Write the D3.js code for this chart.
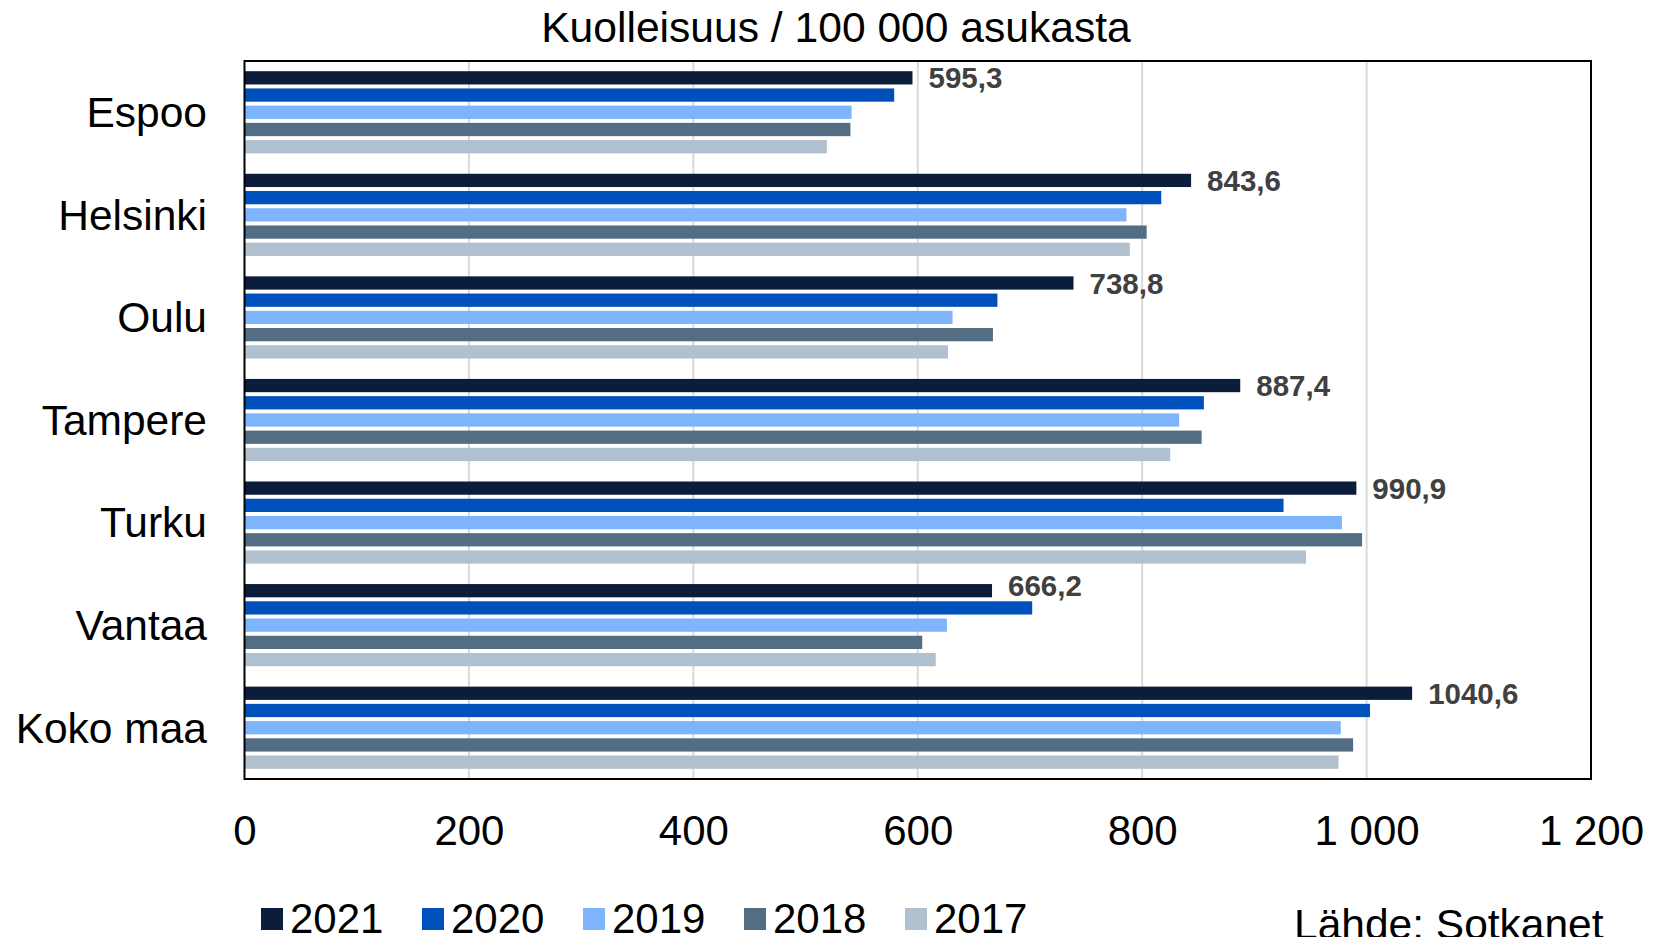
<!DOCTYPE html>
<html>
<head>
<meta charset="utf-8">
<script src="https://cdn.jsdelivr.net/npm/d3@7"></script>
<style>
  html, body { margin: 0; padding: 0; background: #fff; }
  svg { display: block; font-family: "Liberation Sans", Arial, sans-serif; }
</style>
</head>
<body>
<svg id="chart" width="1654" height="937"></svg>
<script>
const title = "Kuolleisuus / 100 000 asukasta";
const source = "Lähde: Sotkanet";
const categories = ["Espoo", "Helsinki", "Oulu", "Tampere", "Turku", "Vantaa", "Koko maa"];
const years = ["2021", "2020", "2019", "2018", "2017"];
const v2021 = [595.3, 843.6, 738.8, 887.4, 990.9, 666.2, 1040.6];
const v2020 = [579, 817, 671, 855, 926, 702, 1003];
const v2019 = [541, 786, 631, 833, 978, 626, 977];
const v2018 = [540, 804, 667, 853, 996, 604, 988];
const v2017 = [519, 789, 627, 825, 946, 616, 975];
const labels2021 = ["595,3", "843,6", "738,8", "887,4", "990,9", "666,2", "1040,6"];
const tickValues = [0, 200, 400, 600, 800, 1000, 1200];
const tickLabels = ["0", "200", "400", "600", "800", "1 000", "1 200"];
const colors = ["#0b1d3a", "#0050bb", "#7eb4fc", "#536d82", "#b0c0cf"];

const series = [v2021, v2020, v2019, v2018, v2017];

const svg = d3.select("#chart");
const L = 244.5, R = 1591, T = 61, B = 779;

const x = d3.scaleLinear().domain([0, 1200]).range([L, R]);
const y0 = d3.scaleBand().domain(categories).range([T, B]).padding(0);
const y1 = d3.scaleBand().domain(years).range([10.2, y0.bandwidth() - 10.2]).paddingInner(0.23).paddingOuter(0);
const color = d3.scaleOrdinal().domain(years).range(colors);

// title
svg.append("text")
  .attr("x", 836).attr("y", 42)
  .attr("text-anchor", "middle")
  .attr("font-size", 42.6)
  .attr("fill", "#000")
  .text(title);

// gridlines
svg.append("g")
  .selectAll("line")
  .data(tickValues.filter(d => d > 0 && d < 1200))
  .join("line")
  .attr("x1", d => x(d)).attr("x2", d => x(d))
  .attr("y1", T).attr("y2", B)
  .attr("stroke", "#d9d9d9")
  .attr("stroke-width", 2);

// bars
const rows = categories.map((c, i) => ({ cat: c, vals: years.map((yr, j) => ({ yr, v: series[j][i] })) }));
const groups = svg.append("g")
  .selectAll("g")
  .data(rows)
  .join("g")
  .attr("transform", d => `translate(0,${y0(d.cat)})`);

groups.selectAll("rect")
  .data(d => d.vals)
  .join("rect")
  .attr("x", x(0))
  .attr("y", d => y1(d.yr))
  .attr("width", d => x(d.v) - x(0))
  .attr("height", y1.bandwidth())
  .attr("fill", d => color(d.yr));

// data labels for 2021 (raised a little when the 2020 bar reaches under the label)
const labelGap = 16;
svg.append("g")
  .selectAll("text")
  .data(categories)
  .join("text")
  .attr("x", (d, i) => x(v2021[i]) + labelGap)
  .attr("y", (d, i) => {
    const c = y0(d) + y1("2021") + y1.bandwidth() / 2;
    return x(v2020[i]) > x(v2021[i]) + labelGap ? c - 5 : c;
  })
  .attr("dy", "0.36em")
  .attr("font-size", 29.5)
  .attr("font-weight", "bold")
  .attr("fill", "#404040")
  .text((d, i) => labels2021[i]);

// plot frame
svg.append("rect")
  .attr("x", L).attr("y", T)
  .attr("width", R - L).attr("height", B - T)
  .attr("fill", "none")
  .attr("stroke", "#000")
  .attr("stroke-width", 2);

// x axis labels
const xAxis = d3.axisBottom(x)
  .tickValues(tickValues)
  .tickFormat((d, i) => tickLabels[i])
  .tickSize(0)
  .tickPadding(0);
const gx = svg.append("g").attr("transform", `translate(0,${B})`).call(xAxis);
gx.select(".domain").remove();
gx.selectAll("text")
  .attr("font-size", 42)
  .attr("font-family", "'Liberation Sans', Arial, sans-serif")
  .attr("fill", "#000")
  .attr("dy", null)
  .attr("y", 65.5);

// y axis labels
const yAxis = d3.axisLeft(y0).tickSize(0).tickPadding(0);
const gy = svg.append("g").attr("transform", `translate(207,0)`).call(yAxis);
gy.select(".domain").remove();
gy.selectAll("text")
  .attr("font-size", 42.5)
  .attr("font-family", "'Liberation Sans', Arial, sans-serif")
  .attr("fill", "#000")
  .attr("x", 0)
  .attr("dy", "0.35em");

// legend
const legend = svg.append("g")
  .selectAll("g")
  .data(years)
  .join("g")
  .attr("transform", (d, i) => `translate(${261 + i * 161},0)`);
legend.append("rect")
  .attr("x", 0).attr("y", 908)
  .attr("width", 22).attr("height", 22)
  .attr("fill", d => color(d));
legend.append("text")
  .attr("x", 29).attr("y", 933)
  .attr("font-size", 42)
  .attr("fill", "#000")
  .text(d => d);

// source
svg.append("text")
  .attr("x", 1294).attr("y", 939)
  .attr("font-size", 42.5)
  .attr("fill", "#000")
  .text(source);
</script>
</body>
</html>
